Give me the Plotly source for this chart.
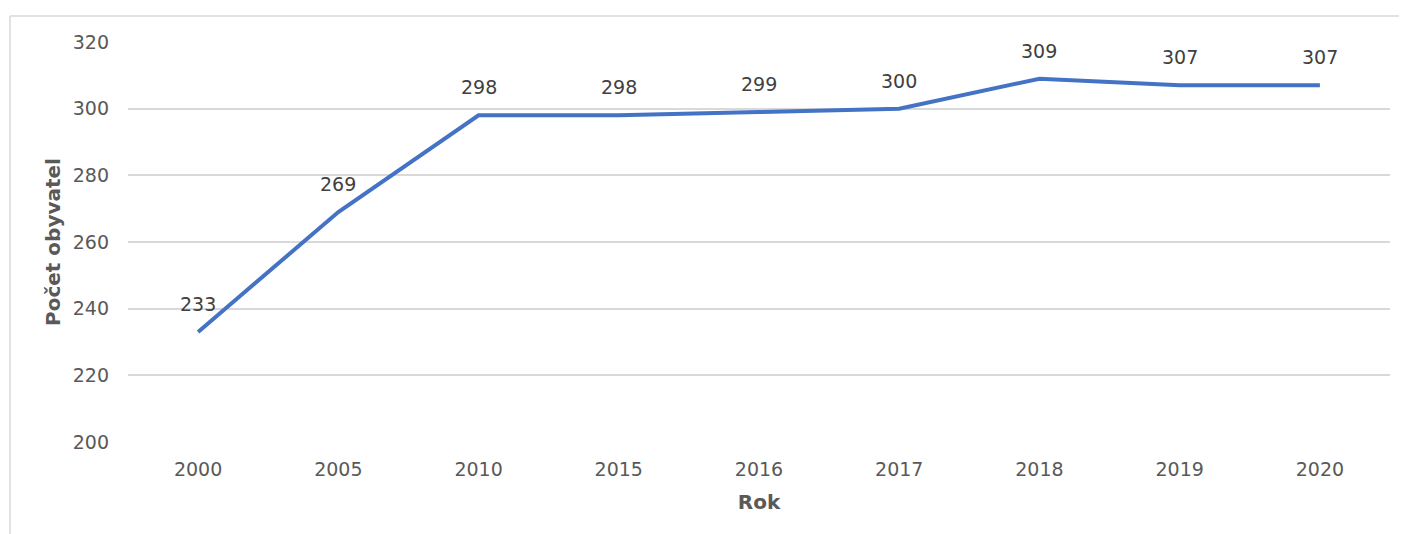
import plotly.graph_objects as go

years = ["2000", "2005", "2010", "2015", "2016", "2017", "2018", "2019", "2020"]
population = [233, 269, 298, 298, 299, 300, 309, 307, 307]
y_ticks = [200, 220, 240, 260, 280, 300, 320]

font_family = "DejaVu Sans"
text_color = "#595959"
grid_color = "#d9d9d9"

fig = go.Figure()
fig.add_trace(go.Scatter(
    x=years, y=population, mode="lines",
    line=dict(color="#4472C4", width=4),
    hoverinfo="x+y", showlegend=False,
))

for i, val in enumerate(population):
    fig.add_annotation(
        x=i, y=val, text=str(val), showarrow=False,
        yshift=28, yanchor="middle", xanchor="center",
        font=dict(family=font_family, size=19, color="#404040"),
    )

# chart frame (left and top edge visible)
fig.add_shape(type="line", xref="paper", yref="paper",
              x0=-0.0935, x1=1.2, y0=1.065, y1=1.065,
              line=dict(color=grid_color, width=1.5))
fig.add_shape(type="line", xref="paper", yref="paper",
              x0=-0.0935, x1=-0.0935, y0=1.065, y1=-0.3,
              line=dict(color=grid_color, width=1.5))

fig.update_layout(
    width=1407, height=534,
    margin=dict(l=120, r=25, t=34, b=100),
    paper_bgcolor="white", plot_bgcolor="white",
    font=dict(family=font_family, size=19, color=text_color),
    xaxis=dict(
        type="category", range=[-0.5, 8.5],
        showgrid=False, showline=False, zeroline=False,
        ticks="", ticklen=0, ticklabelstandoff=14,
        tickfont=dict(family=font_family, size=19, color=text_color),
        title=dict(text="<b>Rok</b>", standoff=15,
                   font=dict(family=font_family, size=20, color=text_color)),
    ),
    yaxis=dict(
        range=[200, 320], tickvals=y_ticks,
        showgrid=True, gridcolor=grid_color, gridwidth=1.5,
        showline=False, zeroline=False, ticks="",
        ticklabelstandoff=18,
        tickfont=dict(family=font_family, size=19, color=text_color),
        title=dict(text="<b>Počet obyvatel</b>", standoff=6,
                   font=dict(family=font_family, size=20, color=text_color)),
    ),
)

fig.write_html("out.html")
